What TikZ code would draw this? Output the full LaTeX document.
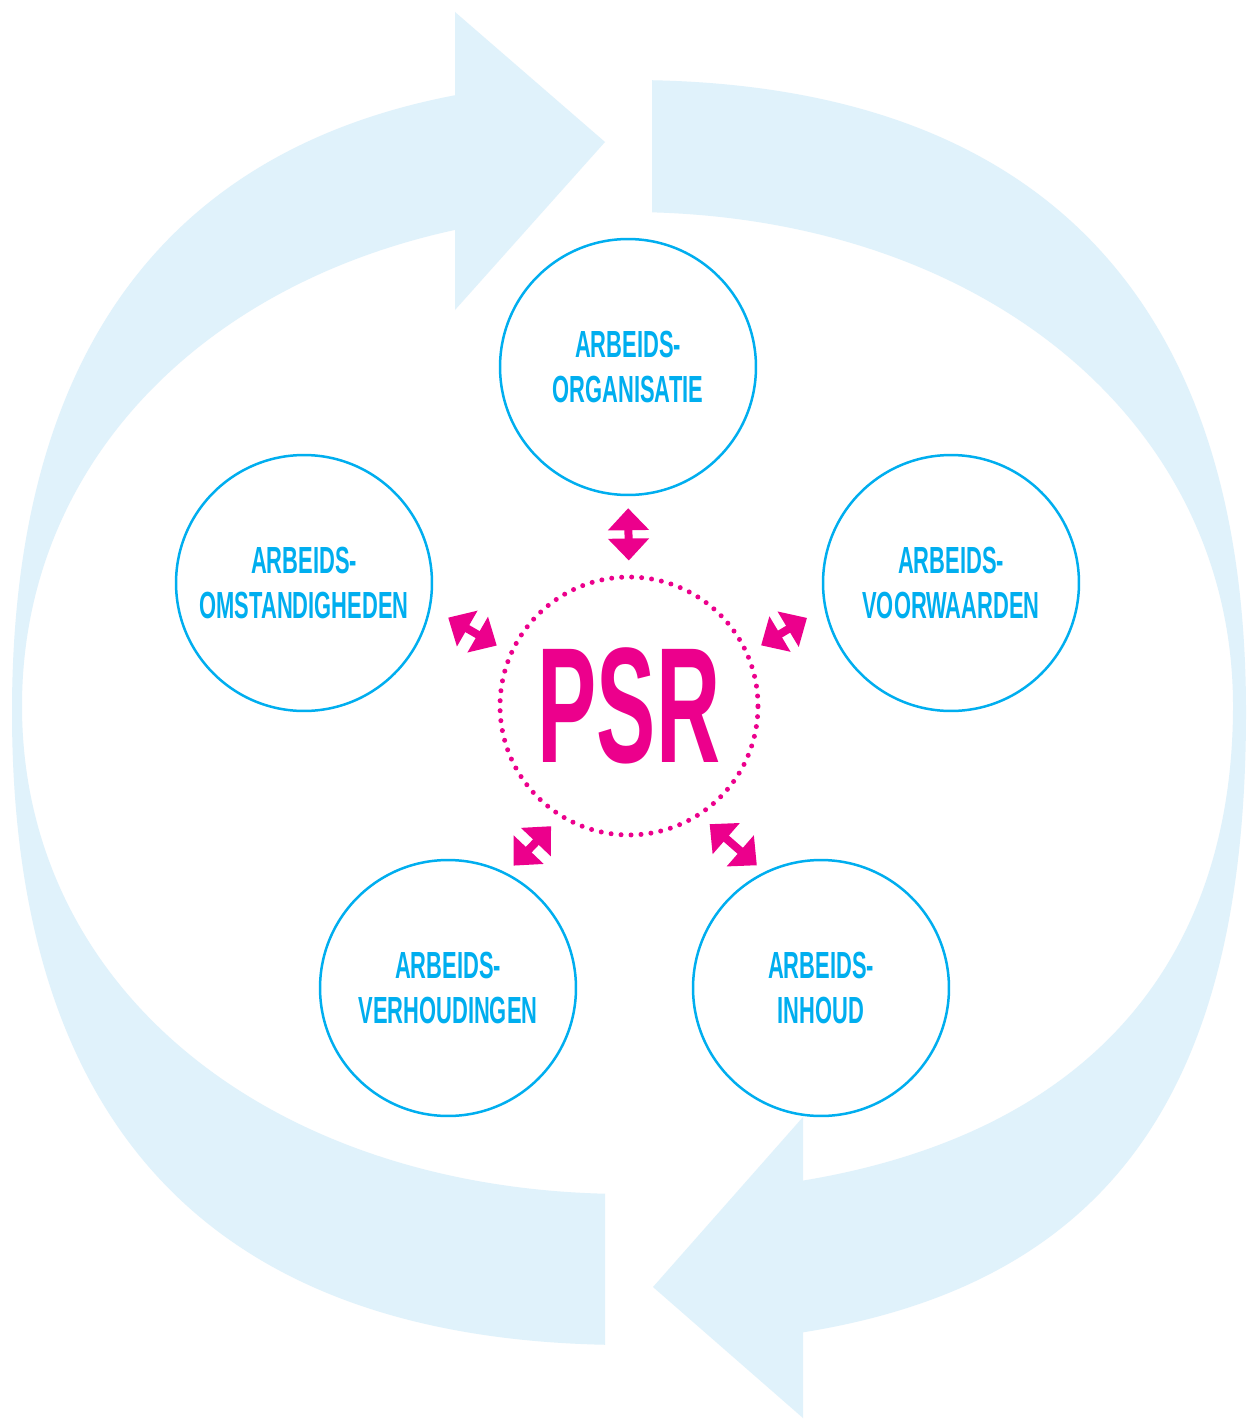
\documentclass[tikz,border=0pt]{standalone}
\usepackage{fontspec}
\newfontfamily\labelfont{Liberation Sans}[FakeStretch=0.58]
\newfontfamily\psrfont{Liberation Sans}[FakeStretch=0.54]
\usetikzlibrary{arrows.meta}
\definecolor{ringblue}{HTML}{E0F2FB}
\definecolor{cyanline}{HTML}{00AEEF}
\definecolor{psrpink}{HTML}{EC008C}
\begin{document}
\begin{tikzpicture}[x=0.02cm,y=-0.02cm,
  topic/.style={circle, draw=cyanline, line width=0.05cm, minimum size=5.12cm,
    inner sep=0pt, text=cyanline, align=center,
    font=\labelfont\bfseries\fontsize{21.5pt}{25.8pt}\selectfont},
  core/.style={circle, draw=psrpink, line width=0.1cm, dash pattern=on 0pt off 0.2cm,
    line cap=round, minimum size=5.16cm, inner sep=0pt, text=psrpink,
    font=\psrfont\bfseries\fontsize{93.6pt}{100pt}\selectfont},
  link/.style={draw=psrpink, line width=0.16cm,
    {Triangle[length=0.44cm,width=0.8cm]}-{Triangle[length=0.44cm,width=0.8cm]}},
  ringfill/.style={fill=ringblue}]

\fill[white] (0,0) rectangle (1259,1419);
\useasboundingbox (0,0) rectangle (1259,1419);

% ---- left (counter-clockwise) big arrow ----
\begin{scope}
  \clip (455,-10) -- (455,710) -- (605,710) -- (605,1430) -- (-10,1430) -- (-10,-10) -- cycle;
  \fill[ringfill, even odd rule]
    (1246,712) .. controls (1246,1132) and (1080,1345) .. (629,1345)
    .. controls (218,1345) and (12,1132) .. (12,712)
    .. controls (12,295) and (222,80) .. (629,80)
    .. controls (1036,80) and (1246,295) .. (1246,712) -- cycle
    (1233,706) .. controls (1233,992.5) and (1050,1194) .. (627.5,1194)
    .. controls (276.5,1194) and (22,992.5) .. (22,706)
    .. controls (22,419.5) and (276.5,212) .. (627.5,212)
    .. controls (978.5,212) and (1233,419.5) .. (1233,706) -- cycle;
\end{scope}
\fill[ringfill] (455,12) -- (605,142) -- (455,310) -- cycle;

% ---- right (clockwise) big arrow ----
\begin{scope}
  \clip (652,-10) -- (1270,-10) -- (1270,1430) -- (803,1430) -- (803,710) -- (652,710) -- cycle;
  \fill[ringfill, even odd rule]
    (1246,712) .. controls (1246,1132) and (1080,1345) .. (629,1345)
    .. controls (218,1345) and (12,1132) .. (12,712)
    .. controls (12,295) and (222,80) .. (629,80)
    .. controls (1036,80) and (1246,295) .. (1246,712) -- cycle
    (1233,706) .. controls (1233,992.5) and (1050,1194) .. (627.5,1194)
    .. controls (276.5,1194) and (22,992.5) .. (22,706)
    .. controls (22,419.5) and (276.5,212) .. (627.5,212)
    .. controls (978.5,212) and (1233,419.5) .. (1233,706) -- cycle;
\end{scope}
\fill[ringfill] (803,1117) -- (653,1287) -- (803,1418) -- cycle;

% ---- nodes ----
\node[core] (psr) at (629,706) {PSR};
\node[topic] (top) at (628,367) {ARBEIDS-\\ORGANISATIE};
\node[topic] (left) at (304,583) {ARBEIDS-\\OMSTANDIGHEDEN};
\node[topic] (right) at (951,583) {ARBEIDS-\\VOORWAARDEN};
\node[topic] (bl) at (448,988) {ARBEIDS-\\VERHOUDINGEN};
\node[topic] (br) at (821,988) {ARBEIDS-\\INHOUD};

% ---- pink double arrows ----
\draw[link, shorten <=0.28cm, shorten >=0.24cm] (psr.90) -- (top.-90);
\draw[link, shorten <=0.28cm, shorten >=0.4cm] (psr.156) -- (left.-11);
\draw[link, shorten <=0.28cm, shorten >=0.4cm] (psr.24) -- (right.191);
\draw[link, shorten <=0.24cm, shorten >=0.2cm] (psr.-122.5) -- (bl.63.5);
\draw[link, shorten <=0.24cm, shorten >=0.2cm] (psr.-57.5) -- (br.116.5);
\end{tikzpicture}
\end{document}
